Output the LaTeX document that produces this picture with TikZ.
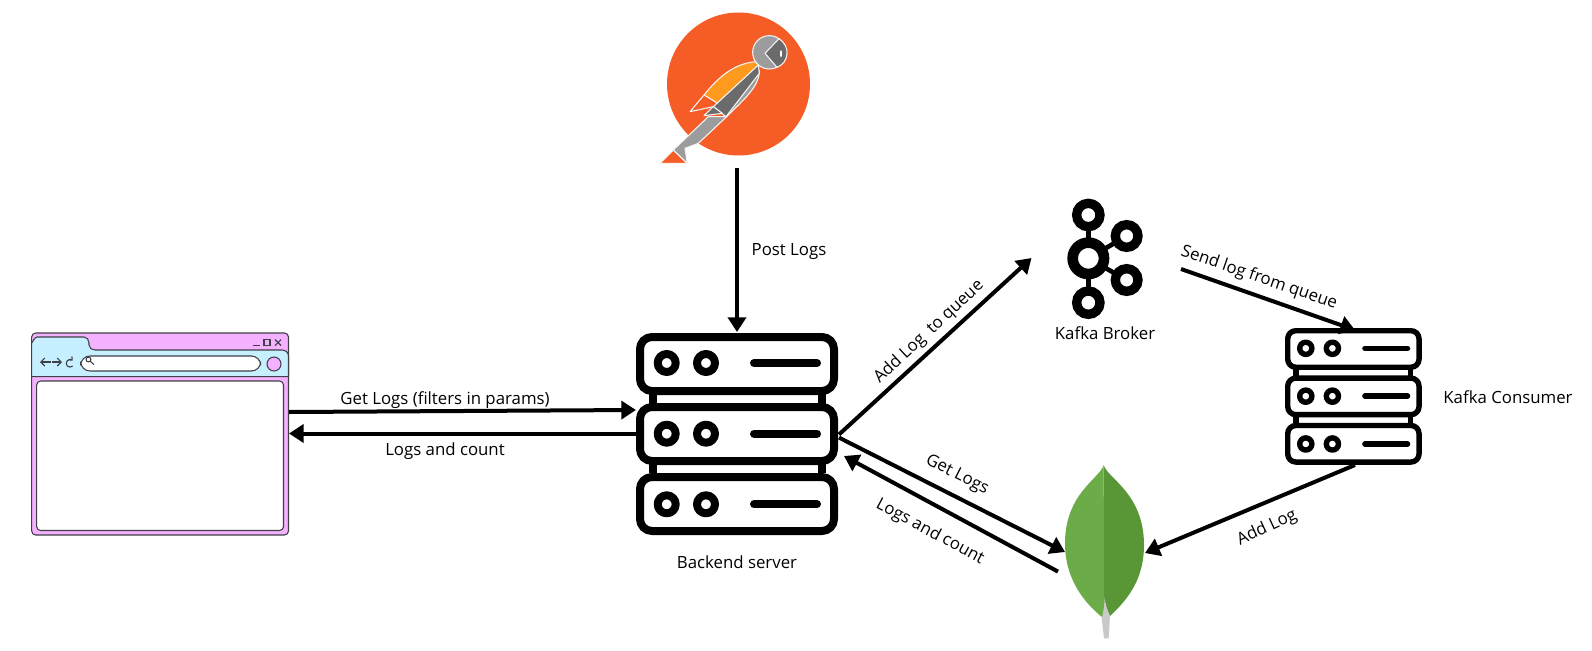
\documentclass[tikz,border=0pt]{standalone}
\usepackage{fontspec}
\setmainfont{Open Sans}
\usetikzlibrary{arrows.meta}
\definecolor{pmorange}{HTML}{F55C26}
\definecolor{pmamber}{HTML}{FF9A1F}
\definecolor{pmgrey}{HTML}{9C9C9C}
\definecolor{pmdark}{HTML}{6B6B6B}
\definecolor{brpink}{HTML}{F4B1FF}
\definecolor{brblue}{HTML}{C6F0FF}
\definecolor{brline}{HTML}{3F3F46}
\definecolor{leafl}{HTML}{6CAC48}
\definecolor{leafd}{HTML}{589636}
\definecolor{stem}{HTML}{C9C9C9}
\tikzset{
  flow/.style={line width=3pt,draw=black,-{Triangle[length=11pt,width=13.5pt]}},
  lbl/.style={font=\fontsize{12.6}{14}\selectfont,text=black,inner sep=0pt},
  fig/.style={draw=white!90!pmgrey,line width=.8pt,line join=round},
  brow/.style={draw=brline,line width=.8pt},
  ico/.style={draw=brline,line width=.8pt}
}
\newcommand{\serverstack}[3]{%
\begin{scope}[shift={(#1,#2)},x=#3*0.75pt,y=-#3*0.75pt]
  \pgfmathsetmacro{\lwa}{#3*6}
  \begin{scope}[line width=\lwa pt,line join=round]
    \foreach \cx in {652.5,821.5}{
      \draw[line width=\lwa pt] (\cx-636,61) -- (\cx-636,140);
    }
    \foreach \ty/\my in {0/30,70/100.7,140/171.3}{
      \draw[fill=white,rounded corners=#3*9pt] (4,\ty+4) rectangle (198,\ty+58);
      \draw (30.7,\my) circle[radius=9];
      \draw (70,\my) circle[radius=9];
      \draw[line cap=round] (118,\my) -- (181,\my);
    }
  \end{scope}
\end{scope}}
\begin{document}
\begin{tikzpicture}[x=0.75pt,y=-0.75pt]
\useasboundingbox (0,0) rectangle (1592,650);

% Postman
\fill[pmorange] (738.5,84) circle[radius=71.5];
\begin{scope}[shift={(630,0)},x=0.25pt,y=-0.25pt]
  \fill[pmorange,fig] (130,450) -- (90,490) -- (172,490) -- cycle;
  \fill[pmgrey,fig] (130,450) -- (235,350) -- (290,350) -- (205,430) -- (165,445) -- (172,490) -- cycle;
  \fill[pmgrey,fig] (388,212) .. controls (388,260) and (340,300) .. (290,350) -- (272,322) -- cycle;
  \draw[fig] (222,285) -- (180,335) -- (250,320);
  \fill[pmamber,fig] (378,185) .. controls (310,190) and (262,235) .. (222,285) -- (272,315) -- (385,195) -- cycle;
  \fill[pmdark,fig] (385,195) -- (250,320) -- (288,350) -- (388,220) -- cycle;
  \fill[pmdark,fig] (222,347) -- (250,320) -- (277,340) -- cycle;
  \fill[pmgrey,fig] (418,157) circle[radius=50];
  \fill[pmdark,fig] (447,116) -- (405,160) -- (441,202) .. controls (478,188) and (482,138) .. (447,116) -- cycle;
  \fill[white] (453,161) ellipse[x radius=3,y radius=11];
\end{scope}

% Browser
\fill[brpink,brow,rounded corners=3pt] (31.7,333) rectangle (288.5,535);
\fill[brblue,brow] (31.7,376.7) -- (31.7,342) to[out=-90,in=180] (37,337) -- (84,337) to[out=0,in=90] (89,343) -- (89,345) to[out=-90,in=180] (95,350) -- (282,350) to[out=0,in=90] (288.5,356) -- (288.5,376.7) -- cycle;
\fill[white,brow,rounded corners=3pt] (36.7,381) rectangle (283.5,530.5);
\fill[white,brow,rounded corners=7pt] (80.7,356) rectangle (260.7,371);
\fill[brpink,brow] (274,364) circle[radius=7];
\draw[ico] (253,345.5) -- (259.5,345.5);
\draw[ico] (264,339.5) rectangle (270,345.5);
\draw[ico] (275,339.5) -- (281,345.5) (281,339.5) -- (275,345.5);
\draw[ico,-{Straight Barb[length=3pt,width=6pt]}] (50.5,362) -- (40,362);
\draw[ico,-{Straight Barb[length=3pt,width=6pt]}] (52,362) -- (62,362);
\draw[ico,-{Straight Barb[length=2pt,width=3.6pt]}] (72.7,366) arc[start angle=45,end angle=315,radius=3.8];
\draw[ico] (88.5,359.5) circle[radius=2.4];
\draw[ico] (90.3,361.3) -- (94,364.5);

% Servers
\serverstack{636}{333}{1}
\serverstack{1285}{328}{0.677}

% Kafka
\begin{scope}[shift={(1030,180)},x=0.25pt,y=-0.25pt]
  \draw[line width=4pt] (175,105) -- (175,368);
  \draw[line width=3.5pt] (175,235) -- (290,168) (175,235) -- (290,300);
  \foreach \p/\r/\w in {{175,105}/35/7pt,{175,368}/35/7pt,{290,168}/34/7pt,{290,300}/34/7pt,{175,235}/47/8pt}{
    \draw[fill=white,line width=\w] (\p) circle[radius=\r];
  }
\end{scope}

% MongoDB
\begin{scope}[shift={(1030,450)},x=0.25pt,y=-0.25pt]
  \fill[leafd] (221,45) .. controls (232,85) and (342,130) .. (342,285) .. controls (342,400) and (280,460) .. (238,500) -- (221,500) -- cycle;
  \fill[leafl] (221,45) .. controls (210,85) and (105,130) .. (105,280) .. controls (105,390) and (165,460) .. (218,503) -- (222,500) -- cycle;
  \fill[stem] (224,440) .. controls (226,465) and (232,480) .. (240,497) -- (236,565) -- (222,565) -- (215,505) .. controls (220,490) and (223,465) .. (224,440) -- cycle;
\end{scope}

% Named end points
\coordinate (postman) at (737,167.5);
\coordinate (srvtop) at (737,332);
\coordinate (brOut) at (289,412);
\coordinate (srvIn) at (636,410);
\coordinate (srvOut) at (636,433.5);
\coordinate (brIn) at (289,433.5);
\coordinate (srvA) at (839,434.5);
\coordinate (kafkaIn) at (1031.5,258);
\coordinate (kafkaOut) at (1181,269);
\coordinate (consIn) at (1355,330);
\coordinate (srvB) at (839,437.6);
\coordinate (mongoIn) at (1065,552);
\coordinate (mongoOut) at (1058,571.6);
\coordinate (srvC) at (844,456);
\coordinate (consOut) at (1355,465);
\coordinate (mongoR) at (1145,553);

\draw[flow] (postman) -- (srvtop);
\draw[flow] (brOut) -- (srvIn);
\draw[flow] (srvOut) -- (brIn);
\draw[flow] (srvA) -- (kafkaIn);
\draw[flow] (kafkaOut) -- (consIn);
\draw[flow] (srvB) -- (mongoIn);
\draw[flow] (mongoOut) -- (srvC);
\draw[flow] (consOut) -- (mongoR);

% Labels
\node[lbl] (t1) at (789,252) {Post Logs};
\node[lbl] (t2) at (445,400) {Get Logs (filters in params)};
\node[lbl] (t3) at (445,451) {Logs and count};
\node[lbl] (t4) at (737,562.5) {Backend server};
\node[lbl,rotate=43] (t5) at (929,332) {Add Log\ \ to queue};
\node[lbl] (t6) at (1105,333.5) {Kafka Broker};
\node[lbl,rotate=-19] (t7) at (1259,278) {Send log from queue};
\node[lbl] (t8) at (1508,397) {Kafka Consumer};
\node[lbl,rotate=-27] (t9) at (957,475) {Get Logs};
\node[lbl,rotate=-28] (t10) at (930,532) {Logs and count};
\node[lbl,rotate=25] (t11) at (1267,528) {Add Log};
\end{tikzpicture}
\end{document}
